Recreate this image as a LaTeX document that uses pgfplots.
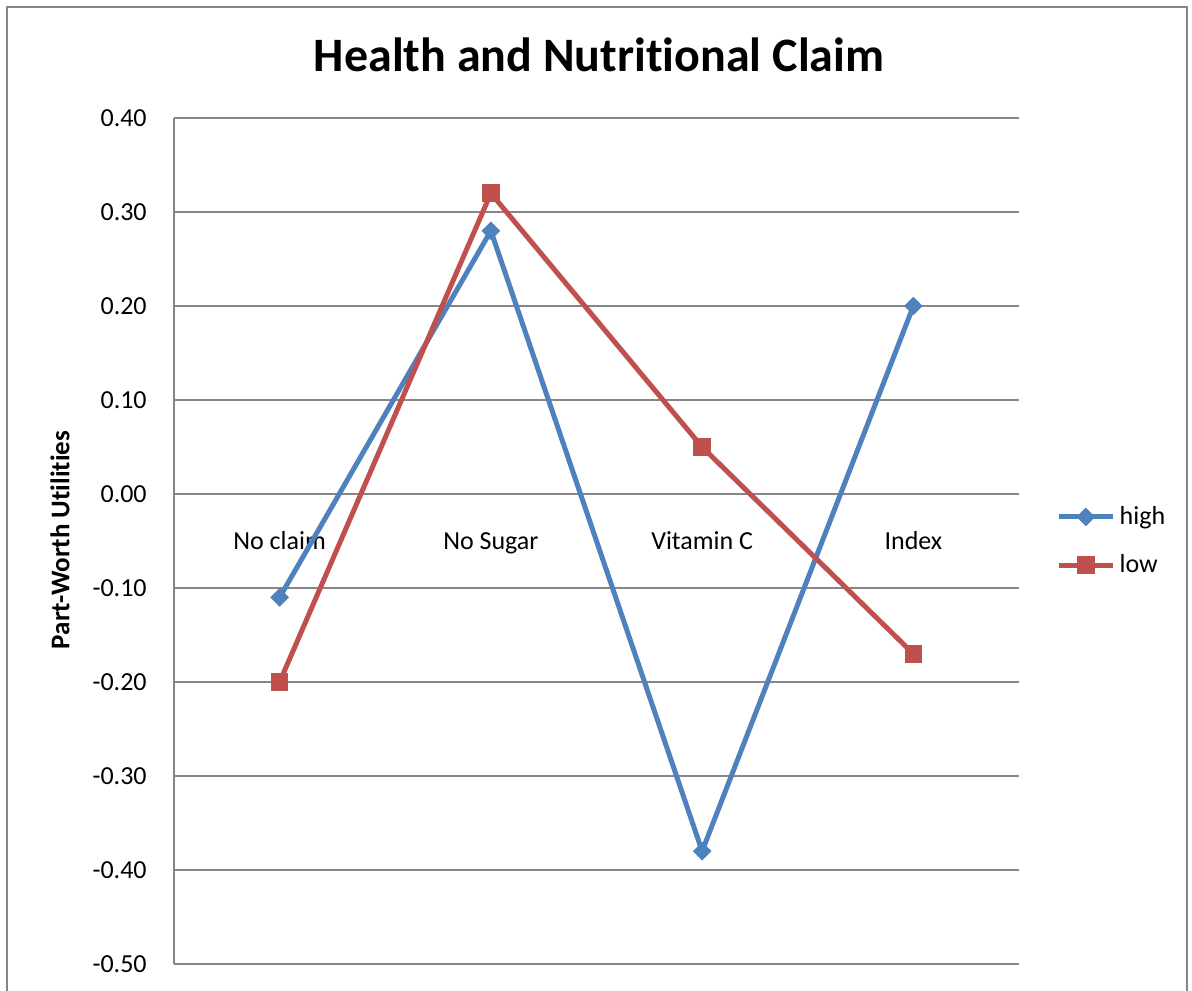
\documentclass[border=0pt]{standalone}
\usepackage{pgfplots}
\pgfplotsset{compat=1.18}
\usepackage{fontspec}
\setmainfont{Carlito}[Ligatures={CommonOff}]
\definecolor{cblue}{RGB}{79,129,189}
\definecolor{cred}{RGB}{192,80,77}
\definecolor{cgrid}{RGB}{134,134,134}
\begin{document}
\begin{tikzpicture}
\useasboundingbox (0pt,0pt) rectangle (596pt,495pt);
\draw[cgrid, line width=1pt] (3.5pt,-10pt) -- (3.5pt,491.5pt) -- (593.5pt,491.5pt) -- (593.5pt,-10pt);
\begin{axis}[
  at={(87pt,13pt)}, anchor=south west,
  scale only axis, width=422.5pt, height=423pt,
  xmin=-0.5, xmax=3.5, ymin=-0.5, ymax=0.4,
  axis y line=left, axis x line=middle,
  axis line style={-, cgrid, line width=0.6pt},
  xtick={0,1,2,3},
  xticklabels={No claim, No Sugar, Vitamin C, Index},
  xtick style={draw=none}, ytick style={draw=none},
  xticklabel style={anchor=base, yshift=-25.5pt, font=\fontsize{13}{15}\selectfont},
  ytick={-0.5,-0.4,...,0.41},
  yticklabel style={font=\fontsize{13}{15}\selectfont, xshift=-8pt},
  /pgf/number format/assume math mode=true,
  yticklabel={\pgfmathprintnumber[fixed, fixed zerofill, precision=2]{\tick}},
  ymajorgrids, grid style={cgrid, line width=0.6pt},
  clip=false,
  legend style={at={(1.044,0.5)}, anchor=west, draw=none, fill=none,
    font=\fontsize{13}{15}\selectfont, row sep=9.5pt, inner sep=0pt},
  legend cell align=left,
  legend image code/.code={\draw[mark repeat=2,mark phase=2] plot coordinates {(0cm,0cm) (0.47cm,0cm) (0.95cm,0cm)};},
]
\addplot[cblue, line width=2.5pt, mark=square*, mark size=2.9pt, mark options={rotate=45, line width=0.8pt, fill=cblue}]
  coordinates {(0,-0.11) (1,0.28) (2,-0.38) (3,0.20)};
\addlegendentry{high}
\addplot[cred, line width=2.5pt, mark=square*, mark size=4pt, mark options={line width=0.8pt, fill=cred}]
  coordinates {(0,-0.20) (1,0.32) (2,0.05) (3,-0.17)};
\addlegendentry{low}
\end{axis}
\node[font=\bfseries\fontsize{24}{28}\selectfont, anchor=base] at (299.5pt,459pt) {Health and Nutritional Claim};
\node[font=\bfseries\fontsize{13.5}{16}\selectfont, rotate=90] at (30pt,225pt) {Part-Worth Utilities};
\end{tikzpicture}
\end{document}
